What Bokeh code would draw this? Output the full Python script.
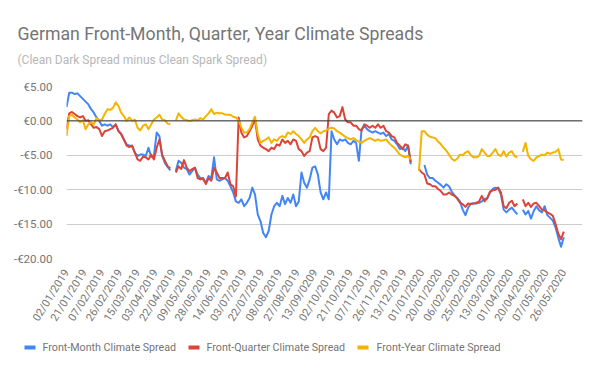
import math
import numpy as np
from bokeh.plotting import figure
from bokeh.layouts import column
from bokeh.core.properties import value
from bokeh.models import FixedTicker, Span, Range1d, Title
from bokeh.embed import file_html
from bokeh.resources import INLINE

# ---------------- data ----------------
title_text = "German Front-Month, Quarter, Year Climate Spreads"
subtitle_text = "(Clean Dark Spread minus Clean Spark Spread)"

# category tick labels (one every 13 trading days)
tick_labels = [
    "02/01/2019", "21/01/2019", "07/02/2019", "26/02/2019", "15/03/2019",
    "03/04/2019", "22/04/2019", "09/05/2019", "28/05/2019", "14/06/2019",
    "03/07/2019", "22/07/2019", "08/08/2019", "27/08/2019", "13/09/0209",
    "02/10/2019", "21/10/2019", "07/11/2019", "26/11/2019", "13/12/2019",
    "01/01/2020", "20/01/2020", "06/02/2020", "25/02/2020", "13/03/2020",
    "01/04/2020", "20/04/2020", "07/05/2020", "26/05/2020",
]
days_per_tick = 13
n_categories = 378          # trading-day categories on the axis
sample_step = 2             # series read every second trading day

y_ticks = [-20, -15, -10, -5, 0, 5]
y_tick_labels = ["-€20.00", "-€15.00", "-€10.00", "-€5.00", "€0.00", "€5.00"]

series_names = ["Front-Month Climate Spread", "Front-Quarter Climate Spread",
                "Front-Year Climate Spread"]

front_month = [
    2.0, 4.1, 4.1, 3.9, 4.0, 3.6, 3.2, 2.8, 2.4, 1.7,
    1.2, 0.5, 0.0, -0.7, -0.5, -0.7, -0.5, -0.9, -0.5, -1.4,
    -1.9, -2.7, -3.4, -3.6, -3.6, -4.6, -5.1, -4.9, -4.9, -5.1,
    -3.9, -5.2, -5.1, -1.7, -2.2, -5.1, -6.1, -6.7, -7.2, None,
    -7.3, -5.8, -6.1, -6.8, -7.0, -7.8, -7.3, -6.8, -7.8, -8.3,
    -8.5, -9.0, -8.0, -8.3, -5.3, -8.5, -8.7, -8.5, -8.3, -8.7,
    -9.5, -10.4, -11.7, -11.9, -11.4, -12.4, -11.9, -11.2, -9.7, -10.7,
    -13.6, -14.6, -16.3, -16.9, -16.0, -13.6, -12.4, -11.9, -12.4, -10.9,
    -12.1, -11.2, -11.9, -10.7, -12.4, -11.7, -7.5, -9.0, -9.7, -8.5,
    -6.8, -6.6, -7.8, -10.4, -11.4, -10.4, -11.4, -1.5, -2.7, -3.4,
    -2.7, -2.9, -2.7, -3.2, -3.4, -2.9, -3.2, -5.8, -1.2, -0.7,
    -1.2, -1.5, -1.7, -1.5, -1.7, -1.9, -1.7, -2.2, -1.9, -2.7,
    -2.9, -3.4, -4.1, -3.9, -4.4, -3.6, -6.3, None, None, None,
    None, -6.4, -7.8, -8.3, -8.3, -8.7, -9.0, -9.3, -9.7, -9.2,
    -9.5, -10.3, -10.8, -11.2, -11.7, -12.9, -13.7, -12.6, -12.0, -12.0,
    -12.0, -11.9, -11.7, -11.3, -11.3, -10.4, -9.9, -9.7, -9.8, -10.7,
    -12.9, -13.3, -12.9, -12.6, -13.1, -13.6, None, -12.9, -13.6, -13.1,
    -14.2, -13.1, -12.4, -13.0, -13.3, -12.4, -13.7, -14.1, -14.5, -15.5,
    -17.0, -18.3, -16.9,
]

front_quarter = [
    -1.2, 1.1, 1.3, 1.0, 0.7, 0.5, 0.7, 0.0, 0.1, -0.5,
    -1.0, -0.9, -1.2, -2.2, -1.5, -1.4, -1.2, -1.0, -0.5, -1.5,
    -1.9, -2.7, -3.6, -3.8, -3.6, -4.6, -5.6, -5.8, -5.2, -5.3,
    -5.6, -4.9, -5.6, -3.9, -2.7, -4.9, -5.8, -6.6, -6.9, None,
    -7.5, -6.6, -7.0, -5.7, -6.8, -7.3, -7.0, -6.8, -8.3, -8.5,
    -8.3, -9.2, -8.3, -8.7, -6.8, -7.5, -8.3, -8.3, -8.3, -7.5,
    -9.2, -9.5, -11.0, 0.5, -1.7, -2.4, -2.2, -1.5, -0.7, 0.2,
    -2.7, -3.6, -3.9, -4.1, -4.4, -3.9, -4.1, -3.4, -3.6, -2.7,
    -3.2, -2.9, -3.4, -2.7, -2.9, -4.1, -4.4, -5.1, -4.6, -4.4,
    -2.4, -2.2, -2.4, -4.1, -4.4, -3.9, 1.0, 1.5, 1.2, 0.5,
    0.7, 2.0, 0.2, -0.2, -0.2, -0.7, -0.7, -1.2, -1.4, -0.5,
    -0.7, -1.0, -0.7, -1.0, -0.5, -1.0, -0.7, -1.5, -1.7, -2.2,
    -2.4, -3.2, -3.6, -4.1, -3.4, -3.6, -6.0, None, None, -7.0,
    -7.5, -7.8, -9.1, -9.2, -9.5, -9.5, -9.9, -10.2, -10.7, -10.7,
    -10.4, -10.7, -10.9, -11.3, -11.9, -12.1, -12.5, -12.0, -12.1, -12.0,
    -11.9, -11.7, -10.9, -11.7, -11.2, -10.3, -10.1, -10.0, -9.7, -10.4,
    -12.4, -12.7, -11.9, -11.6, -12.4, -12.0, None, -11.4, -12.4, -11.9,
    -12.5, -12.0, -11.9, -12.4, -12.9, -13.0, -13.3, -13.5, -13.8, -15.0,
    -16.4, -17.2, -16.1,
]

front_year = [
    -2.2, 0.7, 0.9, 0.5, 0.2, -0.2, 0.1, -1.2, -0.5, -0.2,
    -0.5, 0.4, 0.1, 0.2, 1.0, 1.7, 1.6, 1.9, 2.7, 2.2,
    1.2, 0.7, 0.0, 0.5, 0.0, 0.2, -1.0, -1.4, -0.7, -0.5,
    -1.2, -0.5, 0.2, 0.5, 0.9, 0.2, 0.1, -0.4, -0.5, None,
    0.0, 1.1, 0.6, 0.2, 0.1, 0.0, 0.1, 0.2, 0.1, 0.4,
    0.2, 0.7, 1.1, 1.7, 1.0, 1.2, 1.1, 1.1, 0.9, 0.9,
    0.9, 0.6, 0.5, 0.1, -1.0, -1.7, -1.7, -1.2, -0.2, 0.6,
    -1.9, -3.2, -2.9, -2.7, -2.4, -3.2, -2.7, -2.9, -2.4, -2.2,
    -2.4, -1.7, -1.9, -1.5, -1.9, -2.2, -2.7, -3.2, -2.7, -2.4,
    -1.5, -1.0, -1.5, -1.8, -1.5, -1.4, -1.1, -1.0, -1.1, -1.5,
    -1.7, -2.0, -2.3, -2.5, -2.7, -2.5, -2.8, -3.0, -3.2, -2.9,
    -2.7, -2.5, -2.7, -2.9, -2.7, -2.9, -2.8, -2.7, -3.2, -3.6,
    -3.9, -4.4, -4.9, -5.1, -5.3, -5.1, -5.6, None, None, -7.3,
    -1.5, -1.5, -2.0, -2.3, -2.4, -2.5, -3.0, -3.4, -3.9, -4.3,
    -4.9, -5.5, -5.8, -5.5, -4.9, -5.0, -4.6, -4.4, -5.0, -5.3,
    -5.3, -5.1, -4.1, -4.6, -5.1, -5.1, -4.6, -4.1, -4.9, -5.1,
    -4.4, -5.2, -4.6, -4.4, -5.1, -5.3, None, -4.5, -3.2, -5.1,
    -5.6, -5.8, -5.3, -5.1, -4.9, -5.0, -4.6, -4.8, -4.6, -4.5,
    -4.1, -5.6, -5.7,
]

colors = ["#4285F4", "#DB4437", "#F4B400"]
FONT = "Roboto"
MAIN_H = 334
LEG_H = 37
# legend layout (pixel positions inside the legend strip)
legend_marker_left = [24, 188, 357]
legend_text_left = [42, 206, 376]
legend_row_y = 24


def to_arr(vals):
    return np.array([np.nan if v is None else v for v in vals], dtype=float)


p = figure(width=600, height=MAIN_H, output_backend="svg", toolbar_location=None,
           x_range=Range1d(0, n_categories - 0.3), y_range=Range1d(-20, 5),
           min_border_left=66, min_border_right=18, min_border_top=86,
           min_border_bottom=MAIN_H - 258)
p.outline_line_color = None
p.background_fill_color = "white"
p.border_fill_color = "white"
p.frame_align = False

# grid
p.xgrid.grid_line_color = None
p.ygrid.grid_line_color = "#cccccc"
p.ygrid.grid_line_width = 1

# y axis
p.yaxis.ticker = FixedTicker(ticks=y_ticks)
p.yaxis.major_label_overrides = {t: l for t, l in zip(y_ticks, y_tick_labels)}
p.yaxis.axis_line_color = None
p.yaxis.major_tick_line_color = None
p.yaxis.minor_tick_line_color = None
p.yaxis.major_label_standoff = 8
p.yaxis.major_label_text_font = FONT
p.yaxis.major_label_text_font_size = "11.5px"
p.yaxis.major_label_text_color = "#757575"

# x axis
x_ticks = [i * days_per_tick for i in range(len(tick_labels))]
p.xaxis.ticker = FixedTicker(ticks=x_ticks)
p.xaxis.major_label_overrides = {t: l for t, l in zip(x_ticks, tick_labels)}
p.xaxis.major_label_orientation = math.radians(58)
p.xaxis.axis_line_color = None
p.xaxis.major_tick_line_color = None
p.xaxis.minor_tick_line_color = None
p.xaxis.major_label_standoff = 6
p.xaxis.major_label_text_font = FONT
p.xaxis.major_label_text_font_size = "11px"
p.xaxis.major_label_text_color = "#757575"

# zero baseline
p.add_layout(Span(location=0, dimension="width", line_color="#333333", line_width=1))

# series
for vals, col in zip([front_month, front_quarter, front_year], colors):
    ys = to_arr(vals)
    xs = np.arange(len(ys)) * sample_step
    p.line(xs, ys, line_color=col, line_width=2, line_join="round")

# titles: small spacer nearest the frame, then subtitle, then title
spacer = Title(text=" ", align="left", standoff=0, text_font=FONT,
               text_font_size="6px", text_color="#ffffff")
p.add_layout(spacer, "above")
subtitle = Title(text=subtitle_text, align="left", offset=-49, standoff=18,
                 vertical_align="top", text_font=FONT, text_font_size="12px",
                 text_font_style="normal", text_color="#b7b7b7")
p.add_layout(subtitle, "above")
main_title = Title(text=title_text, align="left", offset=-49, standoff=0,
                   vertical_align="bottom", text_font=FONT, text_font_size="17.7px",
                   text_font_style="normal", text_color="#757575")
p.add_layout(main_title, "above")

# ---------------- legend strip below the chart ----------------
lg = figure(width=600, height=LEG_H, output_backend="svg", toolbar_location=None,
            x_range=Range1d(0, 600), y_range=Range1d(0, LEG_H),
            x_axis_type=None, y_axis_type=None,
            min_border_left=0, min_border_right=0, min_border_top=0,
            min_border_bottom=0)
lg.frame_align = False
lg.outline_line_color = None
lg.xgrid.visible = False
lg.ygrid.visible = False
lg.quad(left=legend_marker_left, right=[v + 11 for v in legend_marker_left],
        bottom=legend_row_y - 2, top=legend_row_y + 2,
        fill_color=colors, line_color=None)
lg.text(x=legend_text_left, y=legend_row_y, text=series_names,
        text_font=value(FONT), text_font_size="10.7px", text_color="#757575",
        text_baseline="middle", text_align="left")

layout = column(p, lg, spacing=0)
open("out.html", "w").write(file_html(layout, INLINE))
